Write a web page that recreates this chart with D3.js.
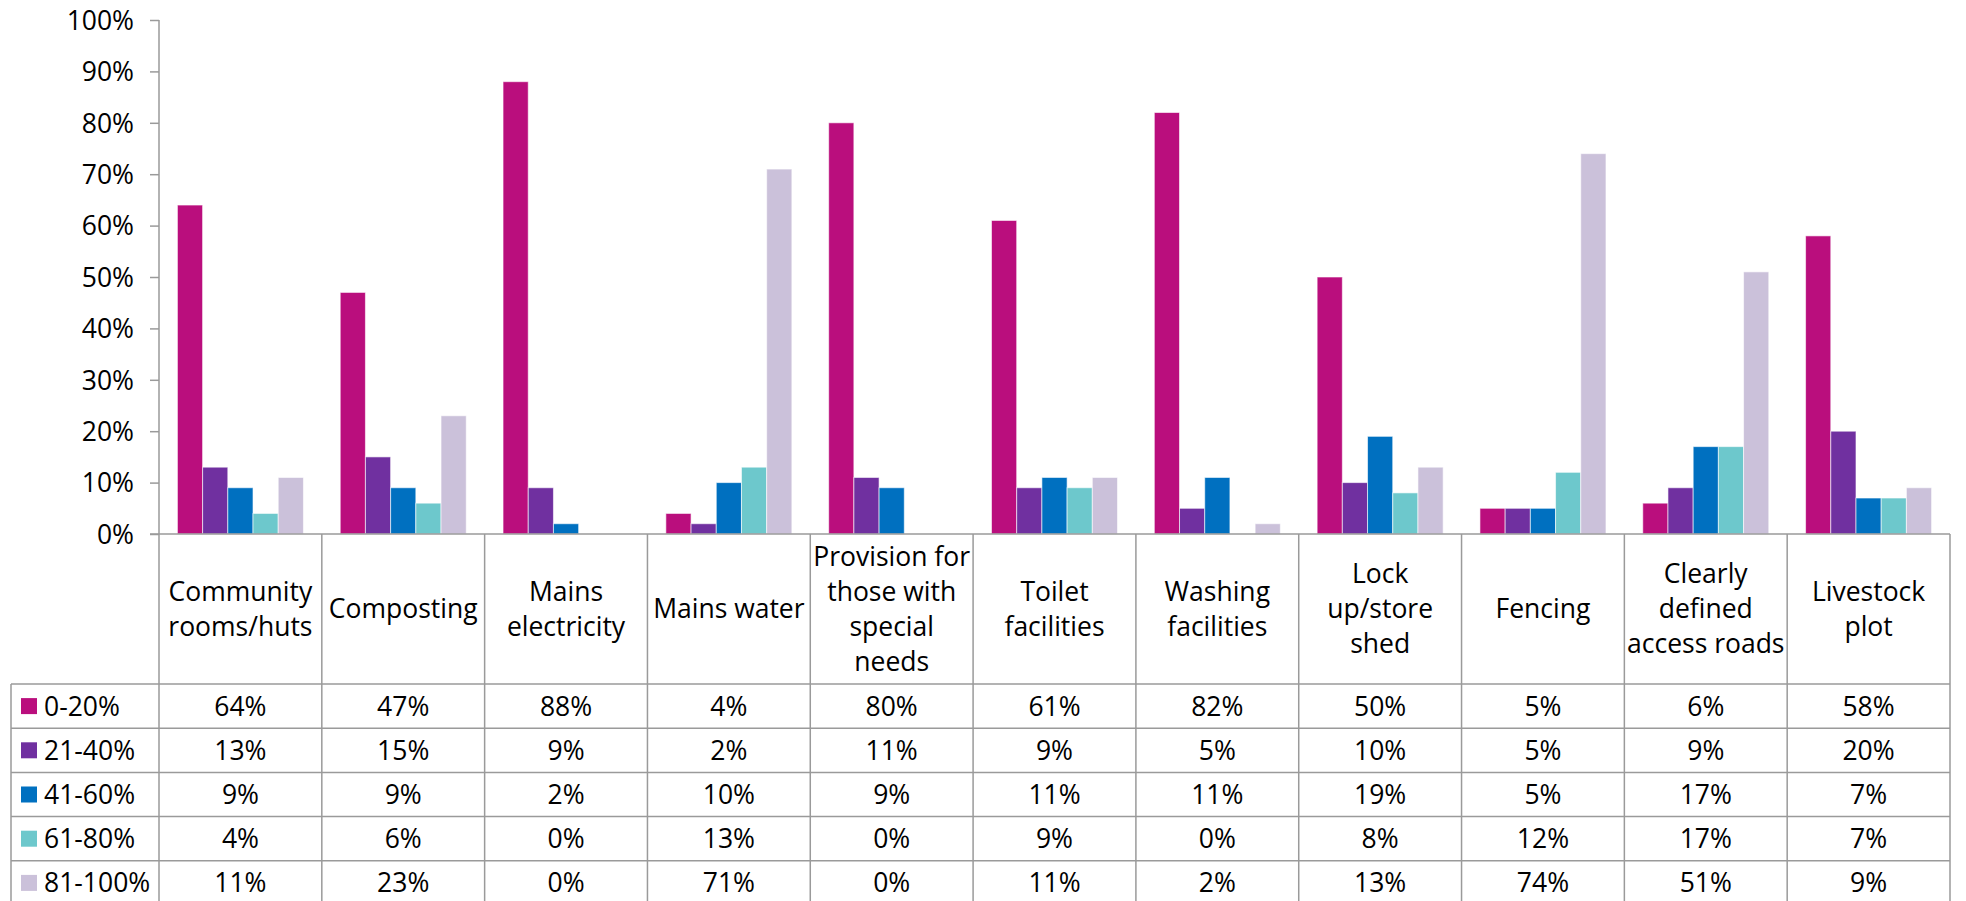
<!DOCTYPE html>
<html>
<head>
<meta charset="utf-8">
<script src="https://cdn.jsdelivr.net/npm/d3@7"></script>
<style>
  html, body { margin: 0; padding: 0; background: #fff; overflow: hidden; }
  svg { display: block; }
  text { font-family: "Open Sans", "Noto Sans", sans-serif; fill: #000; }
</style>
</head>
<body>
<svg id="chart" width="1966" height="901"></svg>
<script>
// ---- data ----
const categories = [
  "Community\nrooms/huts",
  "Composting",
  "Mains\nelectricity",
  "Mains water",
  "Provision for\nthose with\nspecial\nneeds",
  "Toilet\nfacilities",
  "Washing\nfacilities",
  "Lock\nup/store\nshed",
  "Fencing",
  "Clearly\ndefined\naccess roads",
  "Livestock\nplot"
];
const seriesNames = ["0-20%", "21-40%", "41-60%", "61-80%", "81-100%"];
const s0_20   = [64, 47, 88, 4, 80, 61, 82, 50, 5, 6, 58];
const s21_40  = [13, 15, 9, 2, 11, 9, 5, 10, 5, 9, 20];
const s41_60  = [9, 9, 2, 10, 9, 11, 11, 19, 5, 17, 7];
const s61_80  = [4, 6, 0, 13, 0, 9, 0, 8, 12, 17, 7];
const s81_100 = [11, 23, 0, 71, 0, 11, 2, 13, 74, 51, 9];
const seriesValues = [s0_20, s21_40, s41_60, s61_80, s81_100];
const yTicks = [0, 10, 20, 30, 40, 50, 60, 70, 80, 90, 100];
const colors = ["#BA0E7D", "#7030A0", "#0070C0", "#6DC8CC", "#CBC1DA"];

// ---- layout ----
const svg = d3.select("#chart");
const plotLeft = 159, plotRight = 1950, plotTop = 20, plotBottom = 534;
const headerBottom = 684, rowH = 44.2, tableLeft = 11;
const fontSize = 26.5, lineH = 35;
const gridColor = "#9a9a9a";

const x0 = d3.scaleBand().domain(categories).range([plotLeft, plotRight]).padding(0);
const x1 = d3.scaleBand().domain(seriesNames).range([0, x0.bandwidth()]).paddingInner(0).paddingOuter(0.73);
const y = d3.scaleLinear().domain([0, 100]).range([plotBottom, plotTop]);

// y axis
const yAxis = d3.axisLeft(y).tickValues(yTicks).tickFormat(d => d + "%").tickSize(9).tickPadding(16);
const gy = svg.append("g").attr("transform", `translate(${plotLeft},0)`).call(yAxis);
gy.select(".domain").remove();
gy.selectAll(".tick line").attr("stroke", gridColor).attr("stroke-width", 1.5);
gy.selectAll(".tick text").style("font-size", fontSize + "px").attr("font-family", null).attr("dy", "0.35em");

// bars
const groups = svg.append("g").selectAll("g")
  .data(categories).join("g")
  .attr("transform", d => `translate(${x0(d)},0)`);
groups.selectAll("rect")
  .data((c, ci) => seriesNames.map((s, si) => ({ s, si, v: seriesValues[si][ci] })))
  .join("rect")
  .attr("x", d => x1(d.s))
  .attr("width", x1.bandwidth())
  .attr("y", d => y(d.v))
  .attr("height", d => y(0) - y(d.v))
  .attr("fill", d => colors[d.si])
  .attr("stroke", d => d.v > 0 ? "#ffffff" : "none")
  .attr("stroke-opacity", 0.6)
  .attr("stroke-width", 1);

// table lines
const lines = svg.append("g").attr("stroke", gridColor).attr("stroke-width", 1.5).attr("fill", "none");
const tableBottom = headerBottom + rowH * seriesNames.length;
lines.append("line").attr("x1", plotLeft).attr("x2", plotLeft).attr("y1", plotTop).attr("y2", tableBottom);
lines.append("line").attr("x1", plotLeft - 9).attr("x2", plotRight).attr("y1", plotBottom).attr("y2", plotBottom);
categories.forEach(c => {
  const xr = x0(c) + x0.bandwidth();
  lines.append("line").attr("x1", xr).attr("x2", xr).attr("y1", plotBottom).attr("y2", tableBottom);
});
lines.append("line").attr("x1", tableLeft).attr("x2", tableLeft).attr("y1", headerBottom).attr("y2", tableBottom);
d3.range(seriesNames.length + 1).forEach(i => {
  const yy = headerBottom + i * rowH;
  lines.append("line").attr("x1", tableLeft).attr("x2", plotRight).attr("y1", yy).attr("y2", yy);
});

// category labels
const headerMid = (plotBottom + headerBottom) / 2;
categories.forEach(c => {
  const parts = c.split("\n");
  const t = svg.append("text")
    .attr("text-anchor", "middle")
    .style("font-size", fontSize + "px");
  parts.forEach((p, i) => {
    t.append("tspan")
      .attr("x", x0(c) + x0.bandwidth() / 2)
      .attr("y", headerMid + 9 + (i - (parts.length - 1) / 2) * lineH)
      .text(p);
  });
});

// table rows
seriesNames.forEach((s, si) => {
  const rowMid = headerBottom + si * rowH + rowH / 2;
  svg.append("rect")
    .attr("x", 21).attr("y", rowMid - 8).attr("width", 16).attr("height", 16)
    .attr("fill", colors[si]);
  svg.append("text")
    .attr("x", 44).attr("y", rowMid + 9.5)
    .style("font-size", fontSize + "px")
    .text(s);
  categories.forEach((c, ci) => {
    svg.append("text")
      .attr("x", x0(c) + x0.bandwidth() / 2)
      .attr("y", rowMid + 9.5)
      .attr("text-anchor", "middle")
      .style("font-size", fontSize + "px")
      .text(seriesValues[si][ci] + "%");
  });
});
</script>
</body>
</html>
